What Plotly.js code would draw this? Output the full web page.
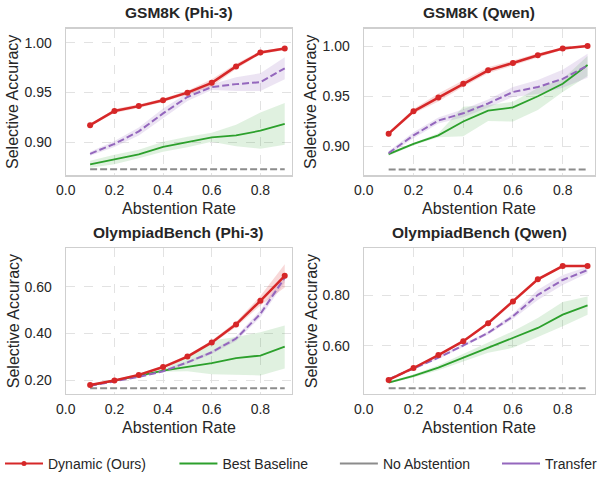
<!DOCTYPE html>
<html>
<head>
<meta charset="utf-8">
<script src="https://cdn.plot.ly/plotly-3.0.1.min.js"></script>
<style>html,body{margin:0;padding:0;background:#fff;}#chart{width:602px;height:480px;}</style>
</head>
<body>
<div id="chart"></div>
<script>
// ---- data ----
const abstention = [0.1, 0.2, 0.3, 0.4, 0.5, 0.6, 0.7, 0.8, 0.9];
const panelTitles = ["GSM8K (Phi-3)", "GSM8K (Qwen)", "OlympiadBench (Phi-3)", "OlympiadBench (Qwen)"];
const seriesNames = ["Dynamic (Ours)", "Best Baseline", "No Abstention", "Transfer"];

// GSM8K (Phi-3)
const gsmPhiDynamic   = [0.9172, 0.9314, 0.9363, 0.9422, 0.9498, 0.9597, 0.9762, 0.9901, 0.9941];
const gsmPhiDynamicLo = [0.9160, 0.9295, 0.9345, 0.9405, 0.9478, 0.9560, 0.9735, 0.9885, 0.9928];
const gsmPhiDynamicHi = [0.9184, 0.9333, 0.9381, 0.9439, 0.9518, 0.9634, 0.9789, 0.9917, 0.9954];
const gsmPhiBase      = [0.8779, 0.8825, 0.8878, 0.8954, 0.9003, 0.9050, 0.9069, 0.9116, 0.9185];
const gsmPhiBaseLo    = [0.8745, 0.8780, 0.8840, 0.8905, 0.8950, 0.9005, 0.8960, 0.8935, 0.8975];
const gsmPhiBaseHi    = [0.8815, 0.8875, 0.8925, 0.9005, 0.9055, 0.9095, 0.9175, 0.9300, 0.9395];
const gsmPhiTransfer   = [0.8884, 0.8983, 0.9109, 0.9290, 0.9455, 0.9554, 0.9584, 0.9604, 0.9743];
const gsmPhiTransferLo = [0.8864, 0.8953, 0.9069, 0.9240, 0.9415, 0.9524, 0.9514, 0.9514, 0.9633];
const gsmPhiTransferHi = [0.8904, 0.9013, 0.9149, 0.9340, 0.9495, 0.9584, 0.9654, 0.9694, 0.9853];
const gsmPhiNoAbst     = [0.8729, 0.8729, 0.8729, 0.8729, 0.8729, 0.8729, 0.8729, 0.8729, 0.8729];

// GSM8K (Qwen)
const gsmQwenDynamic   = [0.9125, 0.9348, 0.9485, 0.9623, 0.9757, 0.9830, 0.9908, 0.9974, 1.0000];
const gsmQwenDynamicLo = [0.9112, 0.9325, 0.9445, 0.9593, 0.9727, 0.9805, 0.9888, 0.9962, 0.9990];
const gsmQwenDynamicHi = [0.9138, 0.9371, 0.9525, 0.9653, 0.9787, 0.9855, 0.9928, 0.9986, 1.0010];
const gsmQwenBase      = [0.8921, 0.9023, 0.9108, 0.9246, 0.9354, 0.9387, 0.9498, 0.9623, 0.9810];
const gsmQwenBaseLo    = [0.8905, 0.9010, 0.9090, 0.9098, 0.9252, 0.9246, 0.9360, 0.9540, 0.9700];
const gsmQwenBaseHi    = [0.8935, 0.9035, 0.9130, 0.9393, 0.9410, 0.9443, 0.9580, 0.9670, 0.9900];
const gsmQwenTransfer   = [0.8931, 0.9108, 0.9256, 0.9328, 0.9426, 0.9541, 0.9590, 0.9672, 0.9803];
const gsmQwenTransferLo = [0.8911, 0.9078, 0.9226, 0.9288, 0.9386, 0.9491, 0.9520, 0.9582, 0.9683];
const gsmQwenTransferHi = [0.8951, 0.9138, 0.9286, 0.9368, 0.9466, 0.9591, 0.9660, 0.9762, 0.9923];
const gsmQwenNoAbst     = [0.8767, 0.8767, 0.8767, 0.8767, 0.8767, 0.8767, 0.8767, 0.8767, 0.8767];

// OlympiadBench (Phi-3)
const olyPhiDynamic   = [0.179, 0.1986, 0.2225, 0.2561, 0.301, 0.3614, 0.4386, 0.5396, 0.6463];
const olyPhiDynamicLo = [0.175, 0.1946, 0.2175, 0.2501, 0.294, 0.3534, 0.4276, 0.5196, 0.5960];
const olyPhiDynamicHi = [0.183, 0.2026, 0.2275, 0.2621, 0.308, 0.3694, 0.4496, 0.5596, 0.6960];
const olyPhiBase      = [0.1775, 0.1972, 0.2183, 0.2407, 0.2561, 0.273, 0.294, 0.3053, 0.3432];
const olyPhiBaseLo    = [0.1750, 0.1940, 0.2140, 0.2360, 0.2380, 0.225, 0.222, 0.2200, 0.2500];
const olyPhiBaseHi    = [0.1800, 0.2000, 0.2220, 0.2460, 0.3000, 0.370, 0.385, 0.4050, 0.4340];
const olyPhiTransfer   = [0.176, 0.196, 0.214, 0.238, 0.276, 0.3193, 0.378, 0.4835, 0.638];
const olyPhiTransferLo = [0.173, 0.193, 0.210, 0.233, 0.270, 0.3123, 0.368, 0.4685, 0.618];
const olyPhiTransferHi = [0.179, 0.199, 0.218, 0.243, 0.282, 0.3263, 0.388, 0.4985, 0.658];
const olyPhiNoAbst     = [0.165, 0.165, 0.165, 0.165, 0.165, 0.165, 0.165, 0.165, 0.165];

// OlympiadBench (Qwen)
const olyQwenDynamic   = [0.4654, 0.5124, 0.5634, 0.6183, 0.6889, 0.7752, 0.8627, 0.915, 0.915];
const olyQwenDynamicLo = [0.4624, 0.5094, 0.5594, 0.6133, 0.6829, 0.7672, 0.8567, 0.911, 0.911];
const olyQwenDynamicHi = [0.4684, 0.5154, 0.5674, 0.6233, 0.6949, 0.7832, 0.8687, 0.919, 0.919];
const olyQwenBase      = [0.4549, 0.4810, 0.5137, 0.5529, 0.5922, 0.6314, 0.6706, 0.7229, 0.7595];
const olyQwenBaseLo    = [0.4509, 0.4750, 0.5037, 0.5379, 0.5725, 0.5920, 0.6340, 0.6770, 0.7230];
const olyQwenBaseHi    = [0.4589, 0.4870, 0.5237, 0.5679, 0.6118, 0.6575, 0.7100, 0.7725, 0.7950];
const olyQwenTransfer   = [0.468, 0.511, 0.553, 0.6013, 0.651, 0.7163, 0.8013, 0.860, 0.8993];
const olyQwenTransferLo = [0.465, 0.507, 0.548, 0.5953, 0.644, 0.7063, 0.7813, 0.840, 0.8863];
const olyQwenTransferHi = [0.471, 0.515, 0.558, 0.6073, 0.658, 0.7263, 0.8213, 0.880, 0.9123];
const olyQwenNoAbst     = [0.4327, 0.4327, 0.4327, 0.4327, 0.4327, 0.4327, 0.4327, 0.4327, 0.4327];

const yTicks = [[0.90, 0.95, 1.00], [0.90, 0.95, 1.00], [0.20, 0.40, 0.60], [0.60, 0.80]];
const xTicks = [0.0, 0.2, 0.4, 0.6, 0.8];

// ---- build ----
const panels = [
  {dyn: [gsmPhiDynamic, gsmPhiDynamicLo, gsmPhiDynamicHi], base: [gsmPhiBase, gsmPhiBaseLo, gsmPhiBaseHi], tr: [gsmPhiTransfer, gsmPhiTransferLo, gsmPhiTransferHi], no: gsmPhiNoAbst, yr: [0.8667, 1.0142]},
  {dyn: [gsmQwenDynamic, gsmQwenDynamicLo, gsmQwenDynamicHi], base: [gsmQwenBase, gsmQwenBaseLo, gsmQwenBaseHi], tr: [gsmQwenTransfer, gsmQwenTransferLo, gsmQwenTransferHi], no: gsmQwenNoAbst, yr: [0.8708, 1.0174]},
  {dyn: [olyPhiDynamic, olyPhiDynamicLo, olyPhiDynamicHi], base: [olyPhiBase, olyPhiBaseLo, olyPhiBaseHi], tr: [olyPhiTransfer, olyPhiTransferLo, olyPhiTransferHi], no: olyPhiNoAbst, yr: [0.140, 0.764]},
  {dyn: [olyQwenDynamic, olyQwenDynamicLo, olyQwenDynamicHi], base: [olyQwenBase, olyQwenBaseLo, olyQwenBaseHi], tr: [olyQwenTransfer, olyQwenTransferLo, olyQwenTransferHi], no: olyQwenNoAbst, yr: [0.409, 0.985]}
];

const RED = '#d62728', GREEN = '#2ca02c', GRAY = '#8c8c8c', PURPLE = '#9467bd';
const FONT = 'Liberation Sans, Arial, sans-serif';
const W = 602, H = 480;
const xDom = [[66, 293], [365, 597]];
const yDom = [[29, 178], [252, 400]];

const traces = [];
function band(x, lo, hi, color, ax) {
  traces.push({x: x, y: lo, xaxis: 'x' + ax, yaxis: 'y' + ax, mode: 'lines', line: {width: 0, color: color}, showlegend: false, hoverinfo: 'skip'});
  traces.push({x: x, y: hi, xaxis: 'x' + ax, yaxis: 'y' + ax, mode: 'lines', line: {width: 0, color: color}, fill: 'tonexty', fillcolor: color, showlegend: false, hoverinfo: 'skip'});
}

const layout = {
  width: W, height: H,
  margin: {l: 0, r: 0, t: 0, b: 0},
  paper_bgcolor: '#ffffff', plot_bgcolor: '#ffffff',
  font: {family: FONT, color: '#262626', size: 14},
  showlegend: true,
  annotations: []
};

// four single-entry legends, placed along the bottom
const legendStarts = [5, 180, 341, 504];
const legendIds = ['legend', 'legend2', 'legend3', 'legend4'];
legendIds.forEach((id, k) => {
  layout[id] = {orientation: 'h', x: (legendStarts[k] - 5) / W, xanchor: 'left', y: 1 - 471 / H, yanchor: 'middle',
    font: {size: 14, color: '#262626', family: FONT}, itemwidth: 38, bgcolor: 'rgba(0,0,0,0)', borderwidth: 0};
});

panels.forEach((p, i) => {
  const ax = i === 0 ? '' : String(i + 1);
  const col = i % 2, row = Math.floor(i / 2);
  band(abstention, p.base[1], p.base[2], 'rgba(44,160,44,0.15)', ax);
  band(abstention, p.tr[1], p.tr[2], 'rgba(148,103,189,0.18)', ax);
  band(abstention, p.dyn[1], p.dyn[2], 'rgba(214,39,40,0.18)', ax);
  traces.push({x: abstention, y: p.no, xaxis: 'x' + ax, yaxis: 'y' + ax, mode: 'lines', name: seriesNames[2], line: {color: GRAY, width: 2, dash: '7px,3px'}, showlegend: false});
  traces.push({x: abstention, y: p.base[0], xaxis: 'x' + ax, yaxis: 'y' + ax, mode: 'lines', name: seriesNames[1], line: {color: GREEN, width: 1.8}, showlegend: false});
  traces.push({x: abstention, y: p.tr[0], xaxis: 'x' + ax, yaxis: 'y' + ax, mode: 'lines', name: seriesNames[3], line: {color: PURPLE, width: 2, dash: '7px,3px'}, showlegend: false});
  traces.push({x: abstention, y: p.dyn[0], xaxis: 'x' + ax, yaxis: 'y' + ax, mode: 'lines+markers', name: seriesNames[0], line: {color: RED, width: 2.5}, marker: {color: RED, size: 6}, showlegend: false});

  const xd = xDom[col], yd = yDom[row];
  const axisCommon = {showline: true, mirror: true, linecolor: '#cfcfcf', linewidth: 1.2, showgrid: true, gridcolor: '#e2e2e2', griddash: 'dash', gridwidth: 1, zeroline: false, ticks: '', tickfont: {size: 14, color: '#262626', family: FONT}};
  layout['xaxis' + ax] = Object.assign({}, axisCommon, {domain: [xd[0] / W, xd[1] / W], range: [0, 0.93], tickvals: xTicks, tickformat: '.1f', anchor: 'y' + ax, ticklabelstandoff: 2});
  layout['yaxis' + ax] = Object.assign({}, axisCommon, {domain: [1 - yd[1] / H, 1 - yd[0] / H], range: p.yr, tickvals: yTicks[i], tickformat: '.2f', anchor: 'x' + ax, ticklabelstandoff: 10});

  const cx = (xd[0] + xd[1]) / 2 / W;
  layout.annotations.push({text: '<b>' + panelTitles[i] + '</b>', xref: 'paper', yref: 'paper', x: cx, y: 1 - (yd[0] - 16) / H, xanchor: 'center', yanchor: 'middle', showarrow: false, font: {size: 15.5, family: FONT, color: '#262626'}});
  layout.annotations.push({text: 'Abstention Rate', xref: 'paper', yref: 'paper', x: cx, y: 1 - (yd[1] + 34) / H, xanchor: 'center', yanchor: 'middle', showarrow: false, font: {size: 16, family: FONT, color: '#262626'}});
  layout.annotations.push({text: 'Selective Accuracy', xref: 'paper', yref: 'paper', x: (xd[0] - 53) / W, y: 1 - (yd[0] + yd[1]) / 2 / H, xanchor: 'center', yanchor: 'middle', textangle: -90, showarrow: false, font: {size: 16, family: FONT, color: '#262626'}});
});

// legend entries (solid handles, as in the reference)
traces.push({x: [null], y: [null], mode: 'lines+markers', name: seriesNames[0], line: {color: RED, width: 2}, marker: {color: RED, size: 5}, showlegend: true, legend: 'legend'});
traces.push({x: [null], y: [null], mode: 'lines', name: seriesNames[1], line: {color: GREEN, width: 2}, showlegend: true, legend: 'legend2'});
traces.push({x: [null], y: [null], mode: 'lines', name: seriesNames[2], line: {color: GRAY, width: 2}, showlegend: true, legend: 'legend3'});
traces.push({x: [null], y: [null], mode: 'lines', name: seriesNames[3], line: {color: PURPLE, width: 2}, showlegend: true, legend: 'legend4'});

Plotly.newPlot('chart', traces, layout, {staticPlot: true, displayModeBar: false});
</script>
</body>
</html>
